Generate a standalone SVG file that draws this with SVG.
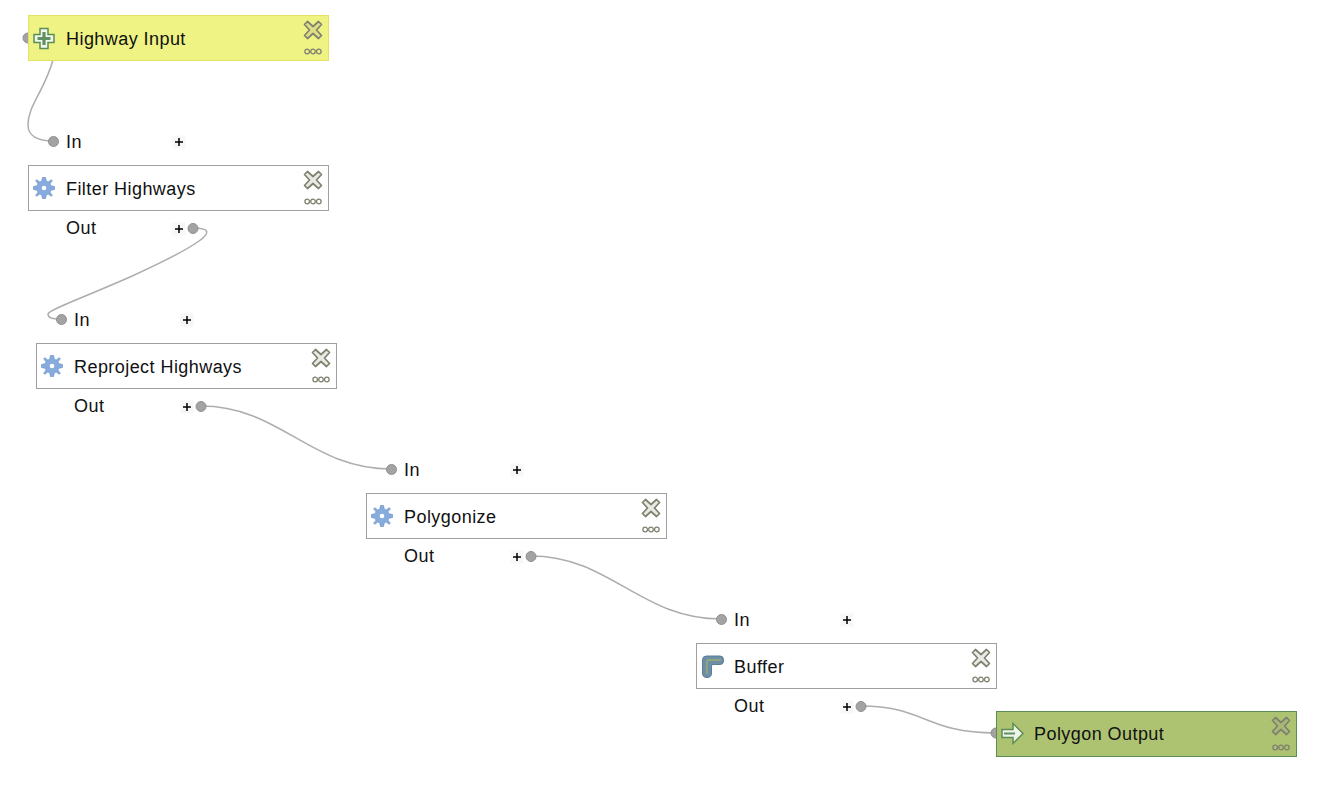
<svg xmlns="http://www.w3.org/2000/svg" width="1318" height="808" viewBox="0 0 1318 808">
<style>
text{font-family:"Liberation Sans",Arial,sans-serif;font-size:18px;letter-spacing:.44px;fill:#111}
.box{fill:#fff;stroke:#a0a0a0;stroke-width:1}
.in{fill:#eff384;stroke:#e4e260}
.outp{fill:#adc372;stroke:#5b8e55}
.c{fill:none;stroke:#adadad;stroke-width:1.5}
.s{fill:#a3a3a3;stroke:#8f8f8f;stroke-width:1}
.pb{fill:#f7f7f7}
.pl{stroke:#000;stroke-width:1.500;fill:none}
.x{fill:#8f8f80;fill-opacity:.2;stroke:#80806f;stroke-width:1.700;stroke-linejoin:round}
.d{fill:none;stroke:#80806f;stroke-width:1.300}
.gear{fill:#86abdc;stroke:#6a93c6;stroke-width:.7}
</style>
<defs>
<g id="ctl">
<path class="x" d="M-5.500-8.500 0-3.500 5.500-8.500 8.500-5.500 3.500 0 8.500 5.500 5.500 8.500 0 3.500-5.500 8.500-8.500 5.500-3.500 0-8.500-5.500Z"/>
<g class="d"><circle cx="-5.800" cy="21.500" r="2.300"/><circle cx="0" cy="21.500" r="2.300"/><circle cx="5.800" cy="21.500" r="2.300"/></g>
</g>
<g id="gear">
<path class="gear" d="M-1.500-10.500H1.500L2.300-6.800 4.200-6 7.200-8.300 8.300-7.200 6-4.200 6.800-2.300 10.500-1.500V1.500L6.800 2.300 6 4.200 8.300 7.200 7.200 8.300 4.200 6 2.300 6.800 1.500 10.500H-1.500L-2.300 6.800-4.200 6-7.200 8.300-8.300 7.200-6 4.200-6.800 2.300-10.500 1.500V-1.500L-6.800-2.300-6-4.200-8.300-7.200-7.200-8.300-4.200-6-2.300-6.800Z"/>
<circle r="2.300" fill="#fff"/>
</g>
<g id="plus"><rect class="pb" x="-6.500" y="-6.500" width="13" height="13"/><path class="pl" d="M-4 0H4M0-4V4"/></g>
</defs>
<g id="connectors">
<path class="c" d="M53 60C44 92 28 105 28 125C28 136 38 141 53 141"/>
<path class="c" d="M193 228C225 228 200 245 130 277C80 299 48 310 48 314C48 318 52 319 61 319"/>
<path class="c" d="M201 406C280 406 310 469 391 469"/>
<path class="c" d="M531 556C610 556 640 619 721 619"/>
<path class="c" d="M861 706C925 706 925 733 996 733"/>
</g>
<g id="node-highway-input">
<circle class="s" cx="28" cy="38" r="5"/>
<rect class="in" x="28.500" y="15.500" width="300" height="45"/>
<path d="M40 28.500H48V34.500H54V42.500H48V48.500H40V42.500H34V34.500H40Z" fill="#f2f7ee" stroke="#5b8e55" stroke-width="1.500"/>
<path d="M44 32V45M37.500 38.500H50.500" stroke="#5f9163" stroke-width="3.200" fill="none"/>
<text x="66" y="45">Highway Input</text>
<use href="#ctl" x="313" y="30"/>
</g>
<g id="node-filter-highways">
<circle class="s" cx="53.500" cy="141.500" r="5"/>
<text x="66" y="147.500">In</text>
<use href="#plus" x="179" y="142"/>
<rect class="box" x="28.500" y="165.500" width="300" height="45"/>
<use href="#gear" x="44" y="188"/>
<text x="66" y="195">Filter Highways</text>
<use href="#ctl" x="313" y="180"/>
<text x="66" y="234">Out</text>
<use href="#plus" x="179" y="229"/>
<circle class="s" cx="193" cy="228.500" r="5"/>
</g>
<g id="node-reproject-highways">
<circle class="s" cx="61.500" cy="319.500" r="5"/>
<text x="74" y="325.500">In</text>
<use href="#plus" x="187" y="320"/>
<rect class="box" x="36.500" y="343.500" width="300" height="45"/>
<use href="#gear" x="52" y="366"/>
<text x="74" y="373">Reproject Highways</text>
<use href="#ctl" x="321" y="358"/>
<text x="74" y="412">Out</text>
<use href="#plus" x="187" y="407"/>
<circle class="s" cx="201" cy="406.500" r="5"/>
</g>
<g id="node-polygonize">
<circle class="s" cx="391.500" cy="469.500" r="5"/>
<text x="404" y="475.500">In</text>
<use href="#plus" x="517" y="470"/>
<rect class="box" x="366.500" y="493.500" width="300" height="45"/>
<use href="#gear" x="382" y="516"/>
<text x="404" y="523">Polygonize</text>
<use href="#ctl" x="651" y="508"/>
<text x="404" y="562">Out</text>
<use href="#plus" x="517" y="557"/>
<circle class="s" cx="531" cy="556.500" r="5"/>
</g>
<g id="node-buffer">
<circle class="s" cx="721.500" cy="619.500" r="5"/>
<text x="734" y="625.500">In</text>
<use href="#plus" x="847" y="620"/>
<rect class="box" x="696.500" y="643.500" width="300" height="45"/>
<path d="M702.500 673V660Q702.500 656 706.500 656H720Q723.500 656 723.500 659.500V661Q723.500 664.500 720 664.500H713Q711.500 664.500 711.500 666V673Q711.500 677.500 707 677.500Q702.500 677.500 702.500 673Z" fill="#6d8ea6" stroke="#5a7f99" stroke-width="1"/>
<path d="M706.800 674V662Q706.800 660 708.800 660H721" fill="none" stroke="#8fa87a" stroke-width="1.800"/>
<text x="734" y="673">Buffer</text>
<use href="#ctl" x="981" y="658"/>
<text x="734" y="712">Out</text>
<use href="#plus" x="847" y="707"/>
<circle class="s" cx="861" cy="706.500" r="5"/>
</g>
<g id="node-polygon-output">
<circle class="s" cx="996" cy="733" r="5"/>
<rect class="outp" x="996.500" y="711.500" width="300" height="45"/>
<path d="M1002 729.500H1013V723.500L1023 733.500 1013 743.500V737.500H1002Z" fill="#eef4e8" stroke="#5b8e55" stroke-width="1.500"/>
<path d="M1004 733.500H1015" stroke="#5f9163" stroke-width="2" fill="none"/>
<text x="1034" y="740">Polygon Output</text>
<use href="#ctl" x="1281" y="726"/>
</g>
</svg>
